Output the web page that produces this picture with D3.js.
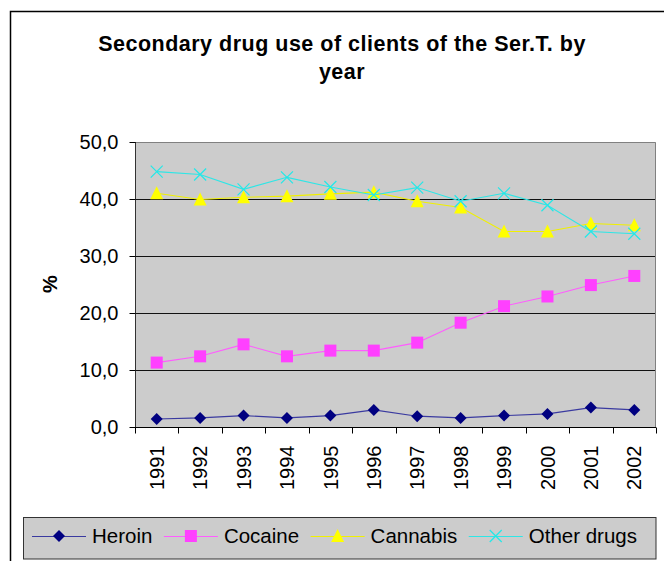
<!DOCTYPE html>
<html>
<head>
<meta charset="utf-8">
<script src="https://cdn.jsdelivr.net/npm/d3@7/dist/d3.min.js"></script>
<style>
  html, body { margin: 0; padding: 0; background: #fff; }
  svg { display: block; font-family: "Liberation Sans", Arial, sans-serif; }
</style>
</head>
<body>
<svg id="chart" width="664" height="561"></svg>
<script>
// Share of Ser.T. clients using each secondary drug, per year (%)
const years = ["1991","1992","1993","1994","1995","1996","1997","1998","1999","2000","2001","2002"];
const heroin   = [1.4, 1.6, 2.0, 1.6, 2.0, 3.0, 1.9, 1.6, 2.0, 2.3, 3.4, 3.0];
const cocaine  = [11.3, 12.4, 14.5, 12.4, 13.4, 13.4, 14.8, 18.3, 21.2, 22.9, 24.9, 26.5];
const cannabis = [41.0, 39.9, 40.3, 40.5, 40.9, 41.2, 39.6, 38.5, 34.3, 34.3, 35.7, 35.4];
const otherDrugs = [44.8, 44.3, 41.7, 43.8, 42.1, 40.7, 42.0, 39.6, 41.0, 38.9, 34.3, 33.9];
const yTicks = [0, 10, 20, 30, 40, 50];
const seriesNames = ["Heroin", "Cocaine", "Cannabis", "Other drugs"];

const series = [
  { name: seriesNames[0], values: heroin,     line: "#3a3aa0", fill: "#000080", stroke: "none",    shape: "diamond" },
  { name: seriesNames[1], values: cocaine,    line: "#ff5cff", fill: "#ff40ff", stroke: "none",    shape: "square" },
  { name: seriesNames[2], values: cannabis,   line: "#f0f000", fill: "#ffff00", stroke: "none",    shape: "triangle" },
  { name: seriesNames[3], values: otherDrugs, line: "#2ee6e6", fill: "none",    stroke: "#22e8e8", shape: "cross" }
];

const svg = d3.select("#chart");
const plot = { left: 135, right: 656, top: 142, bottom: 427 };

// chart frame (runs off the right and bottom edges)
svg.append("rect")
  .attr("x", 10.5).attr("y", 11.5)
  .attr("width", 700).attr("height", 600)
  .attr("fill", "#fff").attr("stroke", "#000").attr("stroke-width", 1.5);

// title
const title = svg.append("text")
  .attr("text-anchor", "middle")
  .attr("font-weight", "bold")
  .attr("font-size", 21.5)
  .attr("letter-spacing", 0.5)
  .attr("fill", "#000");
title.append("tspan").attr("x", 342).attr("y", 51).text("Secondary drug use of clients of the Ser.T. by");
title.append("tspan").attr("x", 342).attr("y", 79).text("year");

const x = d3.scaleBand().domain(years).range([plot.left, plot.right]).padding(0);
const y = d3.scaleLinear().domain([0, 50]).range([plot.bottom, plot.top]);
const cx = d => x(d) + x.bandwidth() / 2;

// plot area
svg.append("rect")
  .attr("x", plot.left).attr("y", plot.top)
  .attr("width", plot.right - plot.left).attr("height", plot.bottom - plot.top)
  .attr("fill", "#cccccc");

// gridlines
svg.append("g").selectAll("line")
  .data(yTicks.filter(t => t > 0 && t < 50))
  .join("line")
  .attr("x1", plot.left).attr("x2", plot.right)
  .attr("y1", d => Math.round(y(d)) + 0.5).attr("y2", d => Math.round(y(d)) + 0.5)
  .attr("stroke", "#111").attr("stroke-width", 1);

// plot border (top and right)
svg.append("path")
  .attr("d", `M${plot.left},${Math.round(plot.top) + 0.5}H${plot.right - 0.5}V${plot.bottom}`)
  .attr("fill", "none").attr("stroke", "#808080").attr("stroke-width", 1);

// y axis
const fmt = v => d3.format(".1f")(v).replace(".", ",");
const yAxis = svg.append("g")
  .attr("transform", `translate(${plot.left + 0.5},0)`)
  .call(d3.axisLeft(y).tickValues(yTicks).tickSize(6).tickPadding(11).tickFormat(fmt));
yAxis.select(".domain").attr("stroke", "#333").attr("d", `M0,${plot.top}V${plot.bottom}`);
yAxis.selectAll(".tick line").attr("stroke", "#000");
yAxis.selectAll(".tick text")
  .attr("font-family", "Liberation Sans, Arial, sans-serif")
  .attr("font-size", 20).attr("fill", "#000");

// x axis
const xAxis = svg.append("g").attr("transform", `translate(0,${plot.bottom + 0.5})`);
xAxis.append("line")
  .attr("x1", plot.left).attr("x2", plot.right)
  .attr("stroke", "#000").attr("stroke-width", 1);
xAxis.selectAll("line.tick")
  .data(years.concat(["end"]))
  .join("line").attr("class", "tick")
  .attr("x1", (d, i) => Math.round(i < years.length ? x(d) : plot.right) + 0.5)
  .attr("x2", (d, i) => Math.round(i < years.length ? x(d) : plot.right) + 0.5)
  .attr("y1", 0).attr("y2", 6)
  .attr("stroke", "#000");
xAxis.selectAll("text")
  .data(years)
  .join("text")
  .attr("transform", d => `translate(${cx(d)},18) rotate(-90)`)
  .attr("dy", "0.36em")
  .attr("text-anchor", "end")
  .attr("font-size", 20)
  .attr("fill", "#000")
  .text(d => d);

// y axis title
svg.append("text")
  .attr("transform", "translate(50,284) rotate(-90)")
  .attr("dy", "0.36em")
  .attr("text-anchor", "middle")
  .attr("font-weight", "bold")
  .attr("font-size", 20)
  .text("%");

// markers
function drawMarker(g, s, px, py) {
  if (s.shape === "diamond") {
    g.append("path").attr("d", `M${px},${py - 6}L${px + 6},${py}L${px},${py + 6}L${px - 6},${py}Z`).attr("fill", s.fill);
  } else if (s.shape === "square") {
    g.append("rect").attr("x", px - 6).attr("y", py - 6).attr("width", 12).attr("height", 12).attr("fill", s.fill);
  } else if (s.shape === "triangle") {
    g.append("path").attr("d", `M${px},${py - 7}L${px + 6.5},${py + 6}L${px - 6.5},${py + 6}Z`).attr("fill", s.fill);
  } else {
    g.append("path").attr("d", `M${px - 6},${py - 6}L${px + 6},${py + 6}M${px - 6},${py + 6}L${px + 6},${py - 6}`)
      .attr("stroke", s.stroke).attr("stroke-width", 1.2).attr("fill", "none");
  }
}

const line = d3.line().x((d, i) => cx(years[i])).y(d => y(d));
const seriesG = svg.append("g");
series.forEach(s => {
  const g = seriesG.append("g");
  g.append("path").datum(s.values)
    .attr("d", line)
    .attr("fill", "none").attr("stroke", s.line).attr("stroke-width", 1.1);
  s.values.forEach((v, i) => drawMarker(g, s, cx(years[i]), y(v)));
});

// legend
const legend = svg.append("g");
legend.append("rect")
  .attr("x", 23.5).attr("y", 517.5).attr("width", 632.5).attr("height", 41.5)
  .attr("fill", "#cccccc").attr("stroke", "#333").attr("stroke-width", 1);
let lx = 32;
const ly = 536;
series.forEach(s => {
  const g = legend.append("g");
  g.append("line").attr("x1", lx).attr("x2", lx + 54).attr("y1", ly + 0.5).attr("y2", ly + 0.5)
    .attr("stroke", s.line).attr("stroke-width", 1.2);
  drawMarker(g, s, lx + 27, ly);
  const t = g.append("text")
    .attr("x", lx + 60).attr("y", ly).attr("dy", "0.36em")
    .attr("font-size", 20.5).attr("fill", "#000")
    .text(s.name);
  lx = lx + 60 + t.node().getComputedTextLength() + 11.5;
});
</script>
</body>
</html>
